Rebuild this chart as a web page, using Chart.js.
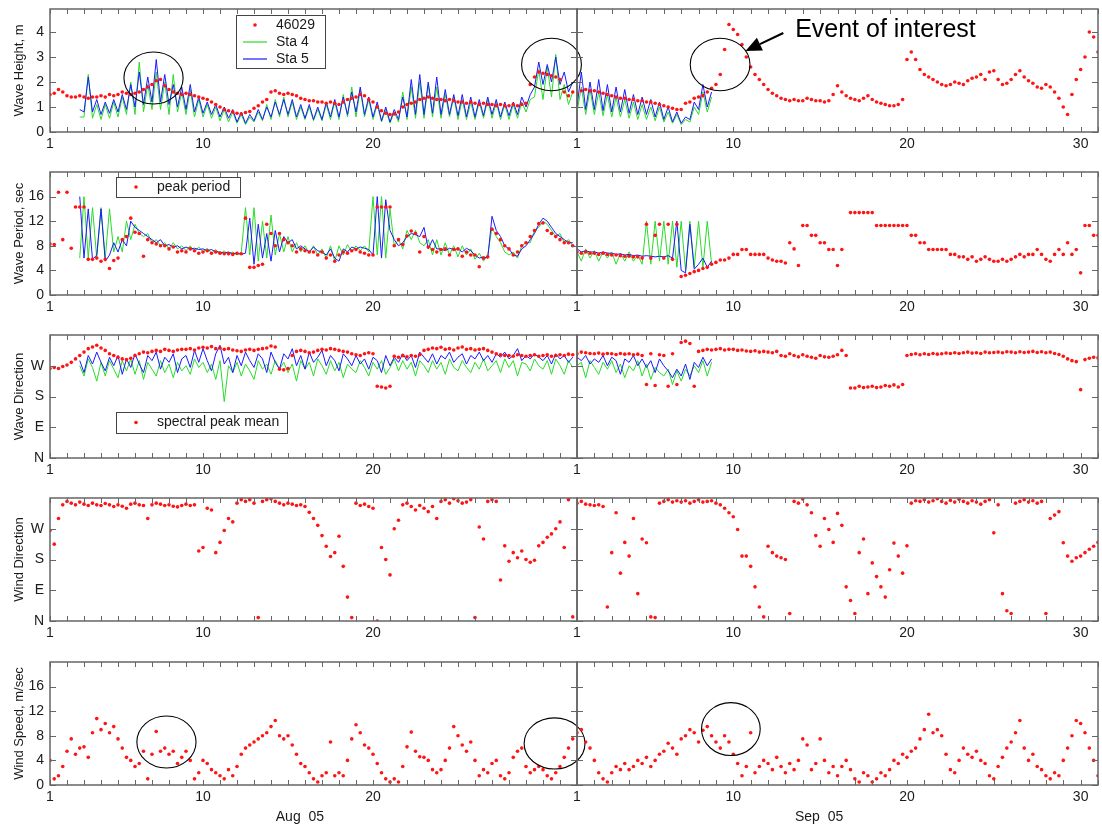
<!DOCTYPE html>
<html><head><meta charset="utf-8">
<script src="https://cdn.jsdelivr.net/npm/chart.js@4.4.1/dist/chart.umd.min.js"></script>
<style>
html,body{margin:0;padding:0;background:#fff;}
#wrap{position:relative;width:1102px;height:825px;overflow:hidden;background:#fff;}
#wrap canvas{position:absolute;}
</style></head>
<body><div id="wrap"></div>
<script>
// ================= DATA =================
// Regular samples every 6 hours (0.25 day). Red series start at day 1 of each month,
// station series (Sta 4 / Sta 5) start at Aug 2.75 and Sep 1.
const STEP = 0.25;
const MONTH_START = 1;
const STA_AUG_START = 2.75;
const STA_SEP_START = 1;

// x axis tick labels
const xLabelsAug = [1, 10, 20];
const xLabelsSep = [1, 10, 20, 30];
const monthTitles = ['Aug  05', 'Sep  05'];

// y axis ticks / labels
const heightTicks = [0, 1, 2, 3, 4];
const heightLabels = ['0', '1', '2', '3', '4'];
const periodTicks = [0, 4, 8, 12, 16];
const periodLabels = ['0', '4', '8', '12', '16'];
const dirTicks = [0, 90, 180, 270];
const dirLabels = ['N', 'E', 'S', 'W'];

// ---- Wave height (m) ----
const hs46029Aug = [
1.5,1.55,1.7,1.6, 1.45,1.4,1.4,1.45, 1.4,1.35,1.4,1.4, 1.45,1.4,1.5,1.45,
1.5,1.6,1.55,1.5, 1.55,1.6,1.7,1.8, 1.9,2.05,2.1,1.85, 1.7,1.6,1.55,1.5,
1.55,1.5,1.45,1.4, 1.35,1.3,1.2,1.1, 1.0,0.9,0.85,0.8, 0.75,0.72,0.78,0.82,
0.95,1.05,1.2,1.3, 1.6,1.65,1.55,1.5, 1.55,1.5,1.45,1.35, 1.3,1.25,1.25,1.2,
1.2,1.15,1.2,1.15, 1.1,1.2,1.3,1.35, 1.4,1.5,1.45,1.3, 1.2,1.0,0.85,0.75,
0.7,0.72,0.8,1.0, 1.1,1.15,1.2,1.3, 1.35,1.4,1.35,1.3, 1.3,1.25,1.3,1.25,
1.2,1.2,1.15,1.2, 1.15,1.1,1.15,1.1, 1.1,1.05,1.1,1.05, 1.05,1.1,1.05,1.1,
1.15,1.9,2.2,2.4, 2.35,2.3,2.25,2.2, 2.1,1.6,1.45,1.6];
const hs46029Sep = [
1.55,1.65,1.7,1.65, 1.65,1.6,1.55,1.5, 1.45,1.4,1.35,1.35, 1.3,1.3,1.25,1.25,
1.2,1.2,1.15,1.1, 1.05,1.0,0.95,0.9, 0.9,1.15,1.2,1.35, 1.4,1.45,1.6,1.75,
1.9,2.3,3.3,4.3, 4.1,3.9,3.5,3.0, 2.6,2.3,2.1,1.9, 1.7,1.55,1.45,1.35,
1.3,1.25,1.3,1.25, 1.25,1.35,1.3,1.25, 1.25,1.2,1.25,1.5, 1.85,1.6,1.45,1.35,
1.3,1.25,1.35,1.45, 1.3,1.2,1.15,1.1, 1.05,1.05,1.1,1.3, 2.9,3.2,2.9,2.5,
2.3,2.2,2.1,2.0, 1.9,1.85,1.9,2.0, 1.95,1.9,2.05,2.15, 2.2,2.3,2.1,2.4,
2.45,2.1,1.9,1.95, 2.1,2.3,2.45,2.2, 2.05,1.95,1.8,1.75, 1.9,1.8,1.6,1.35,
1.0,0.7,1.5,2.1, 2.5,3.0,4.0,3.8, 3.2];
const hsSta4Aug = [0.6,
0.6,2.3,0.55,1.1, 0.5,1.1,0.55,1.2, 0.6,1.4,0.7,2.0, 0.7,2.8,0.8,1.9,
0.9,2.4,0.9,2.0, 0.7,2.3,0.8,1.6, 0.7,1.7,0.6,1.3, 0.6,1.1,0.55,1.0,
0.45,0.9,0.4,0.8, 0.35,0.7,0.3,0.6, 0.4,0.8,0.45,1.1, 0.5,1.3,0.6,1.4,
0.6,1.2,0.5,1.0, 0.5,1.0,0.45,0.9, 0.45,1.1,0.5,1.2, 0.5,1.5,0.6,1.8,
0.6,1.7,0.6,1.3, 0.5,1.1,0.4,0.9, 0.35,0.8,0.4,1.6, 0.5,1.8,0.55,2.0,
0.55,1.9,0.6,1.8, 0.55,1.5,0.6,1.4, 0.5,1.3,0.5,1.2, 0.5,1.2,0.55,1.3,
0.55,1.2,0.5,1.1, 0.5,1.1,0.55,1.2, 0.8,1.3,1.4,2.5, 1.3,2.6,1.4,3.1,
1.3,1.9,1.1,1.6];
const hsSta5Aug = [0.9,
0.8,2.2,0.8,1.3, 0.7,1.2,0.75,1.3, 0.8,1.5,0.9,1.9, 1.0,2.4,1.1,2.2,
1.2,2.9,1.2,2.3, 1.1,1.9,1.0,1.8, 0.9,1.9,0.8,1.4, 0.75,1.2,0.7,1.1,
0.6,1.0,0.55,0.9, 0.4,0.8,0.35,0.7, 0.45,0.9,0.5,1.0, 0.6,1.2,0.7,1.3,
0.7,1.3,0.6,1.1, 0.55,1.1,0.5,1.0, 0.5,1.2,0.6,1.3, 0.6,1.4,0.7,1.6,
0.8,1.8,0.7,1.4, 0.6,1.2,0.45,1.0, 0.4,0.9,0.5,1.4, 0.6,2.1,0.7,2.3,
0.7,2.0,0.75,2.2, 0.7,1.7,0.7,1.5, 0.65,1.5,0.6,1.4, 0.6,1.3,0.65,1.4,
0.7,1.3,0.6,1.2, 0.65,1.2,0.7,1.4, 1.0,1.5,1.8,2.8, 1.9,2.7,2.0,3.0,
1.9,2.4,1.6,2.0];
const hsSta4Sep = [
0.8,1.8,0.7,1.7, 0.7,1.6,0.65,1.5, 0.6,1.4,0.6,1.3, 0.55,1.2,0.5,1.1,
0.5,1.0,0.45,1.0, 0.4,0.8,0.35,0.7, 0.3,0.5,0.4,1.0, 0.7,1.6,0.8,1.4];
const hsSta5Sep = [
1.0,2.4,0.9,2.0, 0.9,2.1,0.85,1.9, 0.8,1.8,0.8,1.7, 0.75,1.5,0.7,1.4,
0.7,1.3,0.6,1.2, 0.5,1.0,0.4,0.8, 0.35,0.6,0.5,1.2, 0.9,1.9,1.0,1.6];

// ---- Wave period (sec) ----
const tp46029Aug = [
8.3,8.2,16.7,9.0, 16.7,7.6,14.3,14.3, 14.3,5.8,5.8,6.0, 5.5,5.8,4.3,5.6,
6.0,9.0,9.5,12.5, 10.2,10.0,6.3,9.0, 8.5,8.3,8.0,8.0, 7.5,7.8,7.0,7.2,
7.0,7.5,7.2,6.8, 7.0,7.2,6.8,7.0, 6.8,6.7,6.7,6.6, 6.8,6.7,12.5,4.5,
4.5,4.8,5.0,11.5, 10.0,8.0,10.0,9.0, 8.5,8.0,7.0,7.5, 7.2,7.0,7.0,6.5,
7.0,6.0,6.5,5.5, 6.5,7.0,6.8,7.2, 7.4,7.0,6.8,6.5, 6.5,14.3,14.3,14.3,
14.3,8.0,9.0,8.2, 9.6,10.4,10.0,7.0, 9.5,7.8,7.4,7.0, 7.4,7.5,6.5,7.4,
7.5,6.3,7.0,6.5, 6.5,4.6,6.0,6.2, 10.7,10.0,9.0,8.0, 7.5,6.5,7.0,8.0,
8.5,9.5,10.5,11.6, 11.7,10.5,10.0,9.5, 9.0,8.5,8.5,8.0];
const tp46029Sep = [
7.0,6.8,7.0,6.8, 6.8,6.6,6.8,6.6, 6.5,6.5,6.4,6.3, 6.3,6.2,6.2,6.0,
11.5,6.0,9.7,11.5, 6.0,11.5,5.8,11.5, 3.0,3.2,3.5,3.8, 4.0,4.3,4.5,5.0,
5.3,5.7,5.7,6.0, 6.6,6.6,7.4,7.4, 6.6,6.6,6.6,6.6, 6.0,5.7,5.5,5.5,
5.2,8.5,7.5,4.8, 11.3,11.3,9.7,9.7, 8.5,8.5,7.4,7.4, 4.8,7.4,null,13.4,
13.4,13.4,13.4,13.4, 13.4,11.3,11.3,11.3, 11.3,11.3,11.3,11.3, 11.3,9.7,9.7,8.5,
8.5,7.4,7.4,7.4, 7.4,7.4,6.6,6.6, 6.2,6.2,5.8,6.2, 5.5,5.8,6.2,5.8,
5.5,5.5,5.8,5.5, 5.8,6.2,6.6,6.2, 6.6,6.6,7.4,6.6, 5.8,5.5,6.6,7.4,
6.6,8.5,6.6,7.4, 3.6,11.3,11.3,9.7, 9.7];
const tpSta4Aug = [6.0,
16.0,6.0,14.2,6.0, 14.2,6.0,14.0,7.0, 9.5,7.0,12.0,9.0, 11.5,10.0,9.5,10.0,
8.5,9.0,8.0,8.5, 7.5,8.5,7.5,8.0, 7.2,8.0,7.0,7.8, 7.0,7.6,6.8,7.4,
6.6,7.2,6.5,7.0, 6.5,6.9,14.2,6.5, 14.2,5.5,12.0,6.0, 13.0,6.5,10.0,7.0,
9.5,7.0,8.5,7.0, 8.0,6.8,8.0,6.5, 7.5,6.0,8.0,5.5, 8.0,6.5,8.2,7.0,
8.0,7.2,8.0,7.0, 16.0,6.5,16.0,6.0, 14.0,8.0,9.0,7.5, 10.5,9.0,10.5,8.5,
8.0,9.0,6.5,9.0, 6.5,8.5,6.5,8.0, 6.2,8.0,6.5,7.5, 5.8,6.8,5.5,6.5,
11.0,9.5,8.5,7.0, 6.5,7.0,6.0,8.0, 8.5,8.5,10.5,11.0, 12.0,11.5,10.5,9.5,
10.0,8.5,9.0,8.0];
const tpSta5Aug = [16.0,
6.0,14.0,5.8,6.5, 14.0,5.5,6.5,8.5, 7.0,9.0,8.0,12.0, 11.0,10.5,10.0,9.5,
9.0,8.5,9.0,8.0, 8.2,7.8,8.0,7.5, 7.8,7.5,7.6,7.4, 7.5,7.2,7.4,7.0,
7.0,6.8,7.0,6.7, 6.8,6.6,6.8,12.5, 5.0,11.5,6.0,10.0, 5.5,10.5,7.0,9.5,
8.5,9.0,7.5,8.0, 7.5,7.0,7.8,7.2, 7.0,6.5,7.5,6.0, 5.5,7.5,7.0,7.8,
7.5,7.8,7.6,7.4, 6.5,16.0,6.0,15.5, 10.5,9.0,8.0,8.5, 9.5,10.0,9.8,9.5,
11.0,7.5,9.0,7.5, 7.5,7.2,7.6,7.4, 7.5,7.0,7.6,7.2, 6.5,6.0,6.2,6.0,
12.8,10.5,9.5,8.0, 7.5,6.5,6.3,7.5, 8.0,9.0,10.0,11.5, 12.5,12.0,11.0,10.0,
9.5,9.0,8.5,8.5];
const tpSta4Sep = [
7.0,5.5,7.5,6.0, 7.2,5.5,7.0,6.0, 7.0,5.0,6.8,5.5, 7.0,5.5,6.5,5.0,
12.0,5.0,12.0,5.5, 12.0,5.0,12.0,4.5, 12.0,4.0,12.0,4.5, 12.0,4.5,12.0,5.0];
const tpSta5Sep = [
7.5,7.0,7.2,7.0, 7.0,6.8,7.0,6.8, 6.8,6.6,6.7,6.5, 6.6,6.4,6.5,6.3,
6.4,6.3,6.2,6.3, 6.2,6.4,6.0,12.0, 4.0,3.6,11.5,4.2, 5.0,6.0,4.5,5.5];

// ---- Wave direction (deg, N=0) ----
const wd46029Aug = [
262,265,262,268, 272,280,290,300, 310,320,325,330, 322,315,305,300,
295,290,288,292, 300,305,310,308, 312,315,312,318, 315,312,316,318,
318,320,316,322, 324,322,326,320, 322,318,320,316, 314,312,316,318,
315,318,320,322, 328,325,260,258, 262,300,312,315, 312,308,310,315,
318,316,320,318, 315,312,310,305, 302,300,305,308, 305,210,208,205,
210,298,295,300, 296,300,298,302, 315,318,322,320, 324,318,320,316,
322,325,318,320, 316,318,320,315, 310,305,302,300, 300,298,302,300,
298,300,302,298, 300,302,298,300, 302,300,304,302];
const wd46029Sep = [
305,310,308,306, 305,307,304,306, 305,303,306,304, 305,302,304,300,
215,305,212,302, 300,210,305,215, 338,342,335,210, 312,315,318,316,
318,320,316,318, 318,315,316,313, 312,314,310,312, 310,308,312,300,
298,305,300,296, 302,298,295,292, 300,296,295,298, 302,315,300,205,
205,210,206,208, 210,206,208,212, 210,214,208,215, 300,303,305,302,
305,303,306,304, 305,307,306,308, 306,308,310,307, 308,306,310,308,
309,310,308,311, 310,308,311,309, 310,312,309,311, 308,310,306,303,
298,290,285,282, 200,288,292,295, 293];
const wdSta4Aug = [270,
240,290,265,225, 280,240,285,260, 235,285,255,290, 245,285,230,280,
260,240,285,250, 275,235,280,255, 270,245,290,265, 280,250,275,230,
285,165,270,250, 280,240,275,255, 230,285,260,275, 245,285,260,280,
250,275,225,285, 260,280,240,290, 270,245,285,255, 280,235,275,260,
250,285,265,240, 280,260,285,245, 265,290,255,285, 260,280,240,285,
270,250,285,260, 280,245,290,265, 255,285,265,250, 280,260,290,255,
270,285,250,290, 265,285,240,280, 275,255,290,270, 260,285,245,290,
270,245,285,265];
const wdSta5Aug = [285,
250,300,275,310, 280,255,295,270, 300,245,290,265, 305,275,250,300,
285,310,260,295, 280,305,250,290, 300,265,315,280, 320,285,255,305,
330,275,295,250, 300,270,310,285, 265,305,290,250, 310,280,260,305,
290,320,270,300, 260,310,280,295, 315,270,300,285, 255,305,290,270,
300,275,290,260, 295,285,250,300, 270,295,280,305, 285,300,265,310,
295,280,305,275, 300,290,310,280, 295,305,275,300, 290,310,285,300,
280,305,295,310, 290,300,320,285, 300,290,305,295, 285,300,275,305,
290,300,280,295];
const wdSta4Sep = [
270,280,235,285, 265,245,280,260, 285,250,275,235, 270,255,285,240,
275,230,265,250, 240,260,215,255, 225,260,240,270, 250,285,240,280];
const wdSta5Sep = [
295,285,300,275, 290,280,300,270, 295,285,245,290, 280,300,270,290,
265,285,250,290, 270,255,235,260, 240,275,230,280, 265,295,270,290];

// ---- Wind direction (deg, N=0) ----
const wind46029DirAug = [
265,225,300,340, 350,345,340,348, 342,338,345,340, 338,344,340,335,
340,336,330,342, 345,340,338,300, 340,345,342,338, 340,336,334,338,
342,338,340,205, 215,330,325,200, 230,265,300,290, 345,355,350,355,
345,10,350,355, 358,350,345,340, 345,342,338,340, 335,318,300,280,
250,219,189,200, 248,160,70,10, 345,338,342,335, 330,0,215,180,
135,270,295,340, 345,335,325,338, 330,320,335,300, 350,355,345,358,
352,345,348,355, 10,275,240,350, 355,350,120,220, 175,200,185,205,
180,172,178,220, 230,245,255,270, 290,215,355,12];
const wind46029DirSep = [
345,350,342,340, 338,340,335,41, 200,317,140,230, 190,300,80,240,
229,12,10,345, 350,355,348,352, 348,352,345,350, 355,348,350,352,
345,340,330,317, 305,268,190,190, 160,100,41,12, 219,200,190,185,
180,22,350,345, 357,340,317,250, 219,300,268,230, 315,280,100,60,
22,200,240,80, 170,130,100,70, 150,228,190,140, 220,345,352,350,
355,348,352,358, 350,345,353,348, 356,350,345,352, 348,342,350,355,
258,340,80,30, 22,345,350,355, 348,352,345,350, 22,300,310,320,
229,190,175,185, 190,200,210,219, 230];

// ---- Wind speed (m/sec) ----
const ws46029Aug = [
4.0,1.0,1.5,3.0, 5.5,7.5,5.0,6.0, 6.2,4.5,8.5,10.8, 9.0,10.0,8.5,9.5,
7.5,6.0,4.5,4.0, 3.0,3.5,5.5,1.0, 5.0,8.7,5.5,6.0, 5.0,5.5,3.5,4.5,
5.5,4.0,1.0,2.0, 4.0,3.5,2.5,2.0, 1.5,1.0,2.5,1.5, 3.0,5.0,6.0,6.5,
7.0,7.5,8.0,8.5, 9.5,10.5,8.0,7.5, 8.0,6.5,5.0,3.5, 3.0,2.0,1.0,0.5,
1.5,2.0,7.0,1.5, 2.0,1.5,4.0,7.5, 9.8,8.5,6.5,6.0, 5.0,3.5,2.0,1.0,
0.5,1.0,0.5,3.0, 6.2,8.6,5.5,4.6, 4.5,4.0,2.5,2.0, 2.5,4.0,6.0,9.5,
8.0,6.5,5.5,7.0, 4.0,1.5,2.5,2.0, 3.5,4.0,1.5,1.0, 2.0,4.5,5.5,6.0,
3.0,2.0,2.5,3.0, 2.5,1.5,1.0,2.0, 3.0,4.5,6.0,7.5];
const ws46029Sep = [
8.5,9.0,7.0,6.0, 4.0,2.0,1.0,0.5, 2.0,3.0,2.5,3.5, 2.5,3.0,4.0,3.5,
4.5,3.0,4.0,5.0, 5.5,6.8,6.0,5.0, 7.5,8.0,9.0,8.5, 7.0,8.9,9.5,8.0,
7.0,6.0,8.0,7.0, 5.0,3.5,1.5,3.0, 8.5,2.0,3.0,4.0, 3.5,2.5,4.5,3.0,
2.0,3.5,2.5,4.0, 7.5,6.5,2.5,3.5, 7.5,4.0,2.0,3.0, 1.5,3.0,4.0,2.5,
1.0,0.5,2.0,1.5, 0.5,1.0,2.0,1.5, 2.5,4.0,3.5,5.0, 4.5,5.5,6.0,7.5,
9.0,11.5,8.5,9.0, 8.0,5.0,2.5,2.0, 4.0,6.0,5.0,4.5, 5.5,4.0,3.5,1.5,
1.0,3.0,4.5,6.0, 7.0,8.5,10.5,6.0, 4.0,5.0,3.0,2.5, 1.5,1.0,2.0,1.5,
4.0,6.0,8.0,10.5, 10.0,8.5,6.0,4.0, 1.5];

// annotation positions (data coordinates)
const circlesHeightAug = [{x: 7.09, y: 2.16, rx: 1.74, ry: 1.04}, {x: 30.5, y: 2.7, rx: 1.76, ry: 1.05}];
const circlesHeightSep = [{x: 9.24, y: 2.7, rx: 1.72, ry: 1.05}];
const circlesSpeedAug = [{x: 7.85, y: 7.0, rx: 1.74, ry: 4.23}, {x: 30.68, y: 6.76, rx: 1.79, ry: 4.15}];
const circlesSpeedSep = [{x: 9.86, y: 9.1, rx: 1.69, ry: 4.3}];
const eventArrow = {x0: 12.88, y0: 3.96, x1: 10.7, y1: 3.24};
const eventText = {x: 13.56, y: 3.8, text: 'Event of interest'};

// ================= RENDERING =================
const FONT = '"Liberation Sans", Arial, Helvetica, sans-serif';
const RED = '#ff1414';
const GREEN = 'rgb(40,220,40)';
const BLUE = 'rgb(25,25,255)';
const AXIS = '#666';
const TEXT = '#1a1a1a';
const AUG_MAX = 32, SEP_MAX = 31;
const ROWS = [
  {top: 9, bottom: 132}, {top: 172, bottom: 295}, {top: 335, bottom: 458},
  {top: 498, bottom: 621}, {top: 662, bottom: 785}
];
const wrap = document.getElementById('wrap');
const frameCfg = new WeakMap();

function pts(start, vals) { return vals.map((v, i) => ({x: start + i * STEP, y: v})); }
function dots(vals) {
  return {data: pts(MONTH_START, vals), showLine: false, pointRadius: 1.8, pointHoverRadius: 0,
          backgroundColor: RED, borderColor: RED, borderWidth: 0, pointBorderWidth: 0};
}
function line(start, vals, color) {
  return {data: pts(start, vals), showLine: true, pointRadius: 0, pointHoverRadius: 0,
          borderColor: color, backgroundColor: color, borderWidth: 1, tension: 0};
}

const framePlugin = {
  id: 'frame',
  afterDraw(chart) {
    const o = frameCfg.get(chart.canvas); if (!o) return;
    const ctx = chart.ctx, ca = chart.chartArea, xs = chart.scales.x, ys = chart.scales.y;
    ctx.save();
    ctx.strokeStyle = AXIS; ctx.lineWidth = 1;
    ctx.beginPath();
    for (let d = 1; d <= Math.floor(xs.max); d++) {
      const px = Math.round(xs.getPixelForValue(d)) + 0.5;
      ctx.moveTo(px, ca.bottom); ctx.lineTo(px, ca.bottom - 5);
      ctx.moveTo(px, ca.top); ctx.lineTo(px, ca.top + 5);
    }
    o.yTicks.forEach(v => {
      const py = Math.round(ys.getPixelForValue(v)) + 0.5;
      ctx.moveTo(ca.left, py); ctx.lineTo(ca.left + 6, py);
      ctx.moveTo(ca.right, py); ctx.lineTo(ca.right - 6, py);
    });
    ctx.stroke();
    ctx.lineWidth = 1.5;
    ctx.strokeRect(ca.left, ca.top, ca.right - ca.left, ca.bottom - ca.top);

    if (o.legend) {
      const lg = o.legend;
      const x0 = ca.left + lg.dx, y0 = ca.top + lg.dy;
      ctx.fillStyle = '#fff'; ctx.fillRect(x0, y0, lg.w, lg.h);
      ctx.strokeStyle = '#444'; ctx.lineWidth = 1;
      ctx.strokeRect(x0 + 0.5, y0 + 0.5, lg.w, lg.h);
      ctx.font = '14px ' + FONT; ctx.textBaseline = 'middle'; ctx.textAlign = 'left';
      lg.items.forEach((it, i) => {
        const cy = y0 + lg.rowY[i];
        if (it.kind === 'dot') {
          ctx.fillStyle = RED; ctx.beginPath(); ctx.arc(x0 + lg.markX, cy, 1.8, 0, Math.PI * 2); ctx.fill();
        } else {
          ctx.strokeStyle = it.color; ctx.lineWidth = 1.2; ctx.beginPath();
          ctx.moveTo(x0 + lg.lineX0, cy); ctx.lineTo(x0 + lg.lineX1, cy); ctx.stroke();
        }
        ctx.fillStyle = TEXT; ctx.fillText(it.text, x0 + lg.textX, cy);
      });
    }
    if (o.circles) {
      ctx.strokeStyle = '#000'; ctx.lineWidth = 1.1;
      o.circles.forEach(c => {
        const cx = xs.getPixelForValue(c.x), cy = ys.getPixelForValue(c.y);
        const rx = Math.abs(xs.getPixelForValue(c.x + c.rx) - cx);
        const ry = Math.abs(ys.getPixelForValue(c.y + c.ry) - cy);
        ctx.beginPath(); ctx.ellipse(cx, cy, rx, ry, 0, 0, Math.PI * 2); ctx.stroke();
      });
    }
    if (o.arrow) {
      const a = o.arrow;
      const x0 = xs.getPixelForValue(a.x0), y0 = ys.getPixelForValue(a.y0);
      const x1 = xs.getPixelForValue(a.x1), y1 = ys.getPixelForValue(a.y1);
      const ang = Math.atan2(y1 - y0, x1 - x0), L = 16, Wd = 7;
      const bx = x1 - L * Math.cos(ang), by = y1 - L * Math.sin(ang);
      ctx.strokeStyle = '#000'; ctx.fillStyle = '#000'; ctx.lineWidth = 2.2;
      ctx.beginPath(); ctx.moveTo(x0, y0); ctx.lineTo(bx, by); ctx.stroke();
      ctx.beginPath(); ctx.moveTo(x1, y1);
      ctx.lineTo(bx + Wd * Math.sin(ang), by - Wd * Math.cos(ang));
      ctx.lineTo(bx - Wd * Math.sin(ang), by + Wd * Math.cos(ang));
      ctx.closePath(); ctx.fill();
    }
    if (o.text) {
      const t = o.text;
      ctx.fillStyle = '#000'; ctx.font = '25px ' + FONT; ctx.textAlign = 'left'; ctx.textBaseline = 'alphabetic';
      ctx.fillText(t.text, xs.getPixelForValue(t.x), ys.getPixelForValue(t.y));
    }
    if (o.xTitle) {
      ctx.fillStyle = TEXT; ctx.font = '14px ' + FONT; ctx.textAlign = 'center'; ctx.textBaseline = 'middle';
      ctx.fillText(o.xTitle.text, xs.getPixelForValue(o.xTitle.x), ca.bottom + 32);
    }
    ctx.restore();
  }
};

function panel(p) {
  const isAug = p.side === 'aug';
  const r = ROWS[p.row];
  const padTop = 16, xAxisH = p.xAxisH || 28;
  const cv = document.createElement('canvas');
  const left = isAug ? 0 : 560;
  const width = isAug ? 600 : 1102 - 560;
  const height = (r.bottom - r.top) + padTop + xAxisH;
  cv.width = width; cv.height = height;
  cv.style.left = left + 'px'; cv.style.top = (r.top - padTop) + 'px';
  cv.style.width = width + 'px'; cv.style.height = height + 'px';
  cv.style.zIndex = isAug ? 1 : 2;
  wrap.appendChild(cv);
  frameCfg.set(cv, p.frame);
  const xLabels = isAug ? xLabelsAug : xLabelsSep;
  new Chart(cv.getContext('2d'), {
    type: 'scatter',
    data: {datasets: p.datasets},
    options: {
      responsive: false, animation: false, devicePixelRatio: 1,
      events: [],
      layout: {padding: {top: padTop, bottom: 0, left: isAug ? 0 : 17, right: isAug ? 23 : 2}},
      plugins: {legend: {display: false}, tooltip: {enabled: false}},
      scales: {
        x: {
          type: 'linear', min: 1, max: isAug ? AUG_MAX : SEP_MAX,
          afterFit: s => { s.height = xAxisH; },
          grid: {display: false, drawTicks: false}, border: {display: false},
          ticks: {stepSize: 1, autoSkip: false, maxRotation: 0, minRotation: 0, includeBounds: false,
                  padding: 4, color: TEXT, font: {family: FONT, size: 14},
                  callback: v => xLabels.includes(v) ? String(v) : ''}
        },
        y: {
          type: 'linear', min: p.yMin, max: p.yMax, display: isAug,
          afterFit: s => { if (isAug) s.width = 50; },
          grid: {display: false, drawTicks: false}, border: {display: false},
          ticks: {stepSize: p.yStep, autoSkip: false, includeBounds: false, padding: 6, color: TEXT,
                  font: {family: FONT, size: 14},
                  callback: v => { const i = p.frame.yTicks.indexOf(v); return i >= 0 ? p.yLabels[i] : ''; }},
          title: {display: isAug, text: p.yTitle, color: TEXT, font: {family: FONT, size: 13},
                  padding: {top: 12, bottom: 0}}
        }
      }
    },
    plugins: [framePlugin]
  });
}

// Row 1: wave height
panel({side: 'aug', row: 0, yMin: 0, yMax: 4.92, yStep: 1, yLabels: heightLabels, yTitle: 'Wave Height, m',
  datasets: [dots(hs46029Aug), line(STA_AUG_START, hsSta5Aug, BLUE), line(STA_AUG_START, hsSta4Aug, GREEN)],
  frame: {yTicks: heightTicks, circles: circlesHeightAug,
    legend: {dx: 186, dy: 6, w: 89, h: 53, rowY: [10, 27, 44], markX: 19, lineX0: 7, lineX1: 31, textX: 40,
      items: [{kind: 'dot', text: '46029'}, {kind: 'line', color: GREEN, text: 'Sta 4'}, {kind: 'line', color: BLUE, text: 'Sta 5'}]}}});
panel({side: 'sep', row: 0, yMin: 0, yMax: 4.92, yStep: 1, yLabels: heightLabels, yTitle: '',
  datasets: [dots(hs46029Sep), line(STA_SEP_START, hsSta5Sep, BLUE), line(STA_SEP_START, hsSta4Sep, GREEN)],
  frame: {yTicks: heightTicks, circles: circlesHeightSep, arrow: eventArrow, text: eventText}});

// Row 2: wave period
panel({side: 'aug', row: 1, yMin: 0, yMax: 20, yStep: 4, yLabels: periodLabels, yTitle: 'Wave Period, sec',
  datasets: [dots(tp46029Aug), line(STA_AUG_START, tpSta5Aug, BLUE), line(STA_AUG_START, tpSta4Aug, GREEN)],
  frame: {yTicks: periodTicks,
    legend: {dx: 66, dy: 5, w: 124, h: 20, rowY: [10], markX: 20, textX: 41, items: [{kind: 'dot', text: 'peak period'}]}}});
panel({side: 'sep', row: 1, yMin: 0, yMax: 20, yStep: 4, yLabels: periodLabels, yTitle: '',
  datasets: [dots(tp46029Sep), line(STA_SEP_START, tpSta5Sep, BLUE), line(STA_SEP_START, tpSta4Sep, GREEN)],
  frame: {yTicks: periodTicks}});

// Row 3: wave direction
panel({side: 'aug', row: 2, yMin: 0, yMax: 360, yStep: 90, yLabels: dirLabels, yTitle: 'Wave Direction',
  datasets: [dots(wd46029Aug), line(STA_AUG_START, wdSta5Aug, BLUE), line(STA_AUG_START, wdSta4Aug, GREEN)],
  frame: {yTicks: dirTicks,
    legend: {dx: 66, dy: 77, w: 171, h: 21, rowY: [10.5], markX: 20, textX: 41, items: [{kind: 'dot', text: 'spectral peak mean'}]}}});
panel({side: 'sep', row: 2, yMin: 0, yMax: 360, yStep: 90, yLabels: dirLabels, yTitle: '',
  datasets: [dots(wd46029Sep), line(STA_SEP_START, wdSta5Sep, BLUE), line(STA_SEP_START, wdSta4Sep, GREEN)],
  frame: {yTicks: dirTicks}});

// Row 4: wind direction
panel({side: 'aug', row: 3, yMin: 0, yMax: 360, yStep: 90, yLabels: dirLabels, yTitle: 'Wind Direction',
  datasets: [dots(wind46029DirAug)], frame: {yTicks: dirTicks}});
panel({side: 'sep', row: 3, yMin: 0, yMax: 360, yStep: 90, yLabels: dirLabels, yTitle: '',
  datasets: [dots(wind46029DirSep)], frame: {yTicks: dirTicks}});

// Row 5: wind speed
panel({side: 'aug', row: 4, xAxisH: 40, yMin: 0, yMax: 20, yStep: 4, yLabels: periodLabels, yTitle: 'Wind Speed, m/sec',
  datasets: [dots(ws46029Aug)],
  frame: {yTicks: periodTicks, circles: circlesSpeedAug, xTitle: {text: monthTitles[0], x: 15.7}}});
panel({side: 'sep', row: 4, xAxisH: 40, yMin: 0, yMax: 20, yStep: 4, yLabels: periodLabels, yTitle: '',
  datasets: [dots(ws46029Sep)],
  frame: {yTicks: periodTicks, circles: circlesSpeedSep, xTitle: {text: monthTitles[1], x: 14.94}}});
</script>
</body></html>
